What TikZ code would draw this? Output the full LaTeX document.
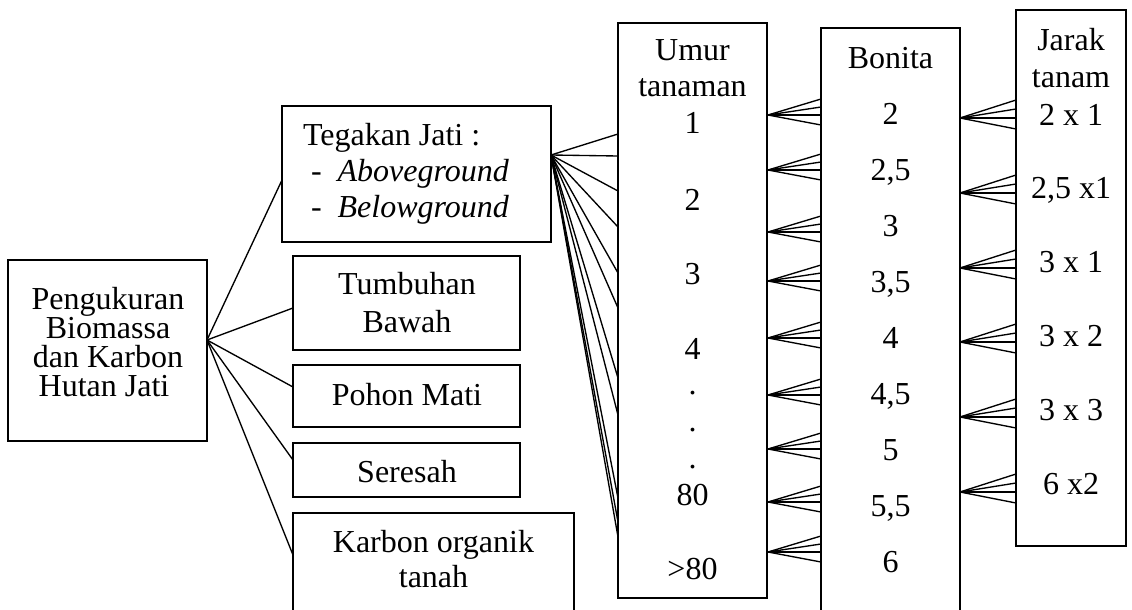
\documentclass[tikz,border=0pt]{standalone}
\usepackage{fontspec}
\setmainfont{Liberation Serif}
\usetikzlibrary{calc}
\begin{document}
\begin{tikzpicture}[x=1pt,y=-1pt,
  box/.style={draw, line width=1.4pt, inner sep=0pt, outer sep=0pt},
  txt/.style={inner sep=0pt, outer sep=0pt, anchor=base, font=\fontsize{32}{37}\selectfont},
  ln/.style={line width=1.35pt}]
\clip (0,0) rectangle (1132,610);
% boxes
\node[box, minimum width=199, minimum height=181] (pk) at (107.5,350.5) {};
\node[box, minimum width=269, minimum height=136] (tg) at (416.5,174) {};
\node[box, minimum width=227, minimum height=94] (tb) at (406.5,303) {};
\node[box, minimum width=227, minimum height=62] (pm) at (406.5,396) {};
\node[box, minimum width=227, minimum height=54] (sr) at (406.5,470) {};
\node[box, minimum width=281, minimum height=137] (ko) at (433.5,581.5) {};
\node[box, minimum width=149, minimum height=575] (um) at (692.5,310.5) {};
\node[box, minimum width=139, minimum height=622] (bo) at (890.5,339) {};
\node[box, minimum width=110, minimum height=536] (jr) at (1071,278) {};
% texts left
\node[txt] (pk1) at (108,309) {Pengukuran};
\node[txt] (pk2) at (108,338) {Biomassa};
\node[txt] (pk3) at (108,367) {dan Karbon};
\node[txt] (pk4) at (104,396) {Hutan Jati};
\node[txt, anchor=base west] (tg1) at (303,145) {Tegakan Jati :};
\node[txt, anchor=base west] (tg2) at (311,181) {-\hspace*{16pt}\textit{Aboveground}};
\node[txt, anchor=base west] (tg3) at (311,217) {-\hspace*{16pt}\textit{Belowground}};
\node[txt] (tb1) at (407,294) {Tumbuhan};
\node[txt] (tb2) at (407,332) {Bawah};
\node[txt] (pm1) at (407,405) {Pohon Mati};
\node[txt] (sr1) at (407,482) {Seresah};
\node[txt] (ko1) at (433.5,552) {Karbon organik};
\node[txt] (ko2) at (433.5,587) {tanah};
% Umur column
\node[txt] (umh1) at (692.5,60) {Umur};
\node[txt] (umh2) at (692.5,96) {tanaman};
\node[txt] (umv1) at (692.5,133) {1};
\node[txt] (umv2) at (692.5,210.5) {2};
\node[txt] (umv3) at (692.5,284) {3};
\node[txt] (umv4) at (692.5,359) {4};
\node[txt] (umd1) at (692.5,394.5) {.};
\node[txt] (umd2) at (692.5,431) {.};
\node[txt] (umd3) at (692.5,468) {.};
\node[txt] (umv5) at (692.5,505) {80};
\node[txt] (umv6) at (692.5,579) {>80};
% Bonita column
\node[txt] (boh) at (890.5,69) {Bonita};
\foreach \v/\yy [count=\i] in {2/124,{2,5}/180,3/236,{3,5}/292,4/348,{4,5}/404,5/460,{5,5}/516,6/572}
  \node[txt] (bov\i) at (890.5,\yy) {\v};
% Jarak column
\node[txt] (jrh1) at (1071,51) {Jarak};
\node[txt] (jrh2) at (1071,88) {tanam};
\foreach \v/\yy [count=\i] in {2 x 1/125,{2,5 x1}/198,3 x 1/272,3 x 2/346,3 x 3/420,6 x2/494}
  \node[txt] (jrv\i) at (1071,\yy) {\v};
% connectors from Pengukuran
\draw[ln] ([yshift=10.5pt]pk.east) -- ([yshift=-6pt]tg.west);
\draw[ln] ([yshift=10.5pt]pk.east) -- ([yshift=-5pt]tb.west);
\draw[ln] ([yshift=10.5pt]pk.east) -- ([yshift=9pt]pm.west);
\draw[ln] ([yshift=10.5pt]pk.east) -- ([yshift=10pt]sr.west);
\draw[ln] ([yshift=10.5pt]pk.east) -- ([yshift=26.5pt]ko.west);
% fan from Tegakan to Umur
\foreach \yy in {134,156,191,227,273,308,378,415,498,522,537}
  \draw[ln] ([yshift=19pt]tg.east) -- ($(um.north west)+(0,\yy-23)$);
% fans Umur -> Bonita
\foreach \yy in {115,170,232,281,338,395,449,502,552}
  \foreach \dd in {-16,-8,0,10}
    \draw[ln] ($(um.north east)+(1,\yy-23)$) -- ($(bo.north west)+(0,\yy+\dd-28)$);
% fans Bonita -> Jarak
\foreach \yy in {118,193,268,342,417,492}
  \foreach \dd in {-18,-9,0,11}
    \draw[ln] ($(bo.north east)+(0,\yy-28)$) -- ($(jr.north west)+(0,\yy+\dd-10)$);
\end{tikzpicture}
\end{document}
